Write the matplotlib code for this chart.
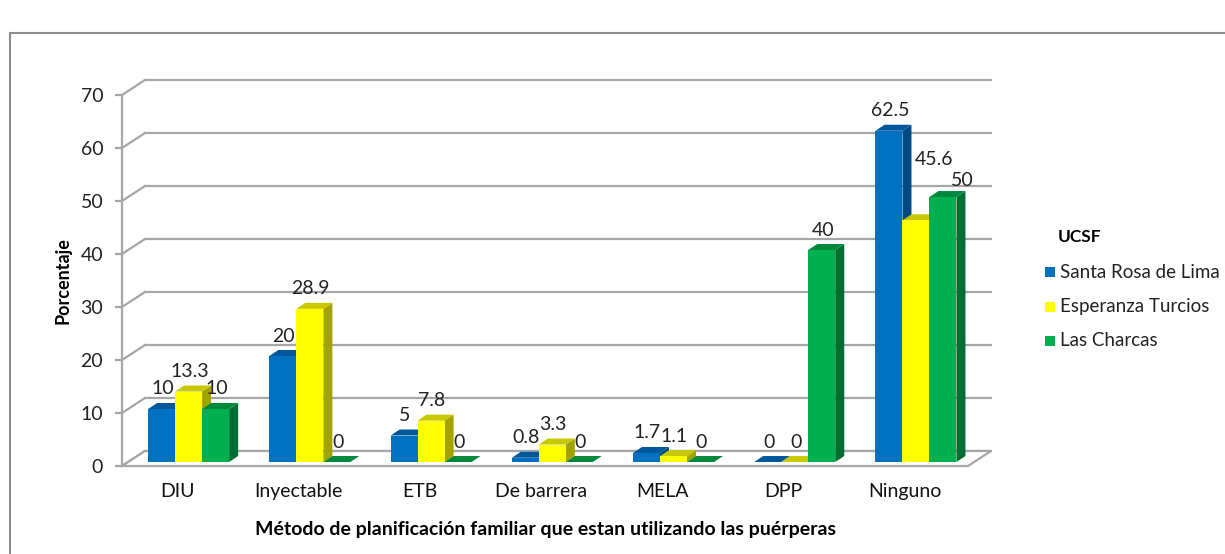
import matplotlib.pyplot as plt
from matplotlib.patches import Polygon, Rectangle
from matplotlib.transforms import ScaledTranslation

plt.rcParams['font.family'] = ['Lato', 'DejaVu Sans']

# --- data ---
categories = ['DIU', 'Inyectable', 'ETB', 'De barrera', 'MELA', 'DPP', 'Ninguno']
series_names = ['Santa Rosa de Lima', 'Esperanza Turcios', 'Las Charcas']
santa_rosa = [10, 20, 5, 0.8, 1.7, 0, 62.5]
esperanza = [13.3, 28.9, 7.8, 3.3, 1.1, 0, 45.6]
las_charcas = [10, 0, 0, 0, 0, 40, 50]
y_ticks = [0, 10, 20, 30, 40, 50, 60, 70]

front_colors = ['#0070C0', '#FFFF00', '#00B050']
top_colors = ['#00589C', '#C8C800', '#00893C']
side_colors = ['#004A84', '#A3A300', '#006F30']
grid_col = '#A6A6A6'

W, H = 1225, 554
fig = plt.figure(figsize=(W / 100, H / 100), dpi=100)

# outer chart frame (cut off on right and bottom like the source)
fig.add_artist(Rectangle((10 / W, -0.1), 1.2, 1.1 - 33 / H, transform=fig.transFigure,
                         fill=False, edgecolor='#8C8C8C', lw=1.5))

ax = fig.add_axes([122 / W, 1 - 466 / H, (968 - 122) / W, (466 - 95) / H])
xmin, xmax = -0.459, 6.52
ax.set_xlim(xmin, xmax)
ax.set_ylim(0, 70)

# pixels per data unit
sx = (968 - 122) / (xmax - xmin)
sy = (466 - 95) / 70.0

# back wall depth
wdx, wdy = 23 / sx, 15 / sy
for v in y_ticks:
    ax.plot([xmin + wdx, xmax + wdx], [v + wdy, v + wdy], color=grid_col, lw=1.6,
            clip_on=False, zorder=1)
    ax.plot([xmin, xmin + wdx], [v, v + wdy], color=grid_col, lw=1.6,
            clip_on=False, zorder=1)

floor = Polygon([(xmin, 0), (xmax, 0), (xmax + wdx, wdy), (xmin + wdx, wdy)],
                closed=True, facecolor='white', edgecolor=grid_col, lw=1.6,
                clip_on=False, zorder=2)
ax.add_patch(floor)

for s in ['top', 'right', 'bottom']:
    ax.spines[s].set_visible(False)
ax.spines['left'].set_color(grid_col)
ax.spines['left'].set_linewidth(1.6)
ax.spines['left'].set_zorder(3)

ax.set_yticks(y_ticks)
ax.tick_params(axis='y', length=5, width=1.6, color=grid_col, pad=8.5,
               labelsize=14, labelcolor='#222222')
ax.set_xticks(range(len(categories)))
ax.set_xticklabels(categories)
ax.tick_params(axis='x', length=0, pad=12, labelsize=14, labelcolor='#111111')
ax.set_facecolor('none')

ax.set_ylabel('Porcentaje', fontsize=13, fontweight='bold')
ax.yaxis.set_label_coords((63 - 122) / 846, (466 - 281) / 371)
ax.yaxis.label.set_va('center')
ax.set_xlabel('Método de planificación familiar que estan utilizando las puérperas',
              fontsize=14, fontweight='bold')
ax.xaxis.set_label_coords((546 - 122) / 846, (466 - 529) / 371)
ax.xaxis.label.set_va('center')

# bars sit a little way into the floor
bar_tr = ax.transData + ScaledTranslation(11 / 100, 4 / 100, fig.dpi_scale_trans)
bw = 27 / sx
bdx, bdy = 9 / sx, 6 / sy

# a couple of labels Excel nudged aside
label_nudge = {(1, 6): (17, 41), (2, 6): (18, -4)}

all_series = [santa_rosa, esperanza, las_charcas]
for j, vals in enumerate(all_series):
    z = 5 + j
    lefts = [i - 1.5 * bw + j * bw for i in range(len(categories))]
    for i, (x0, v) in enumerate(zip(lefts, vals)):
        x1 = x0 + bw
        side = Polygon([(x1, 0), (x1 + bdx, bdy), (x1 + bdx, v + bdy), (x1, v)],
                       closed=True, facecolor=side_colors[j], edgecolor='none',
                       transform=bar_tr, clip_on=False, zorder=z)
        top = Polygon([(x0, v), (x1, v), (x1 + bdx, v + bdy), (x0 + bdx, v + bdy)],
                      closed=True, facecolor=top_colors[j], edgecolor='none',
                      transform=bar_tr, clip_on=False, zorder=z)
        ax.add_patch(side)
        ax.add_patch(top)
        ndx, ndy = label_nudge.get((j, i), (0, 0))
        ax.annotate(f'{v:g}', (x0 + bw / 2, v), xycoords=bar_tr,
                    xytext=(1 + ndx, 20 + ndy), textcoords='offset pixels',
                    ha='center', va='center', fontsize=14, color='#222222',
                    zorder=20, annotation_clip=False)
    ax.bar(lefts, vals, width=bw, align='edge', color=front_colors[j],
           transform=bar_tr, clip_on=False, zorder=z)

# legend drawn by hand to match the Excel layout
fig.text(1058 / W, 1 - 237 / H, 'UCSF', fontsize=12.5, fontweight='bold',
         ha='left', va='center')
for k, name in enumerate(series_names):
    yc = 272 + k * 34.5
    fig.add_artist(Rectangle((1045 / W, 1 - (yc + 5) / H), 10 / W, 10 / H,
                             transform=fig.transFigure, facecolor=front_colors[k],
                             edgecolor='none'))
    fig.text(1060 / W, 1 - yc / H, name, fontsize=13.5, ha='left', va='center',
             color='#222222')

fig.savefig('out.png', dpi=100)
